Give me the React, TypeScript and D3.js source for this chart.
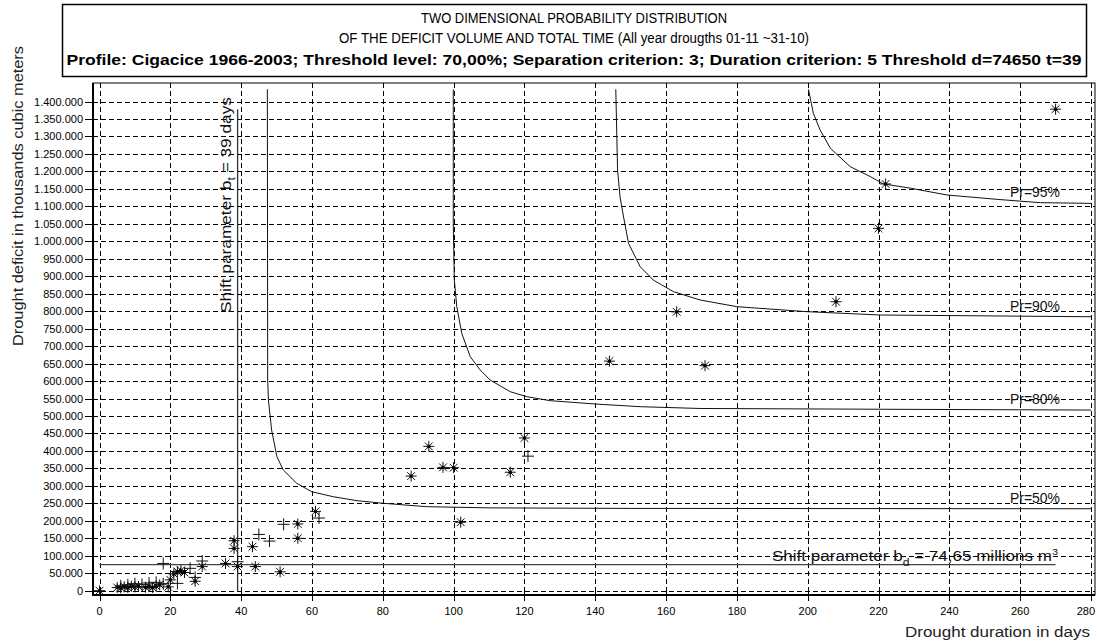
import React from "react";
import * as d3 from "d3";

// ---------- data ----------
const xTickValues = [0, 20, 40, 60, 80, 100, 120, 140, 160, 180, 200, 220, 240, 260, 280];
const yTickValues = [
  0, 50000, 100000, 150000, 200000, 250000, 300000, 350000, 400000, 450000,
  500000, 550000, 600000, 650000, 700000, 750000, 800000, 850000, 900000, 950000,
  1000000, 1050000, 1100000, 1150000, 1200000, 1250000, 1300000, 1350000, 1400000,
];

const titleLines = [
  "TWO DIMENSIONAL PROBABILITY DISTRIBUTION",
  "OF THE DEFICIT VOLUME AND TOTAL TIME (All year drougths 01-11 ~31-10)",
  "Profile: Cigacice 1966-2003; Threshold level: 70,00%; Separation criterion: 3; Duration criterion: 5 Threshold d=74650 t=39",
];
const yAxisTitle = "Drought deficit in thousands cubic meters";
const xAxisTitle = "Drought duration in days";

// drought events (duration days, deficit thousand m3) – asterisk markers
const asteriskPoints: [number, number][] = [
  [0, 0], [5, 9000], [6, 8000], [7, 11000], [8, 9000], [9, 13000], [10, 11000],
  [11, 12000], [13, 10000], [14, 12000], [15, 9000], [16, 13000], [17, 17000],
  [19.4, 11000], [20, 31000], [21, 48000], [22, 55000], [23, 58000], [24, 52000],
  [27, 27000], [29, 69000], [35.6, 78000], [38, 121000], [38, 143000], [39, 69000],
  [43.2, 126000], [44, 69000], [51, 54000], [56, 150000], [56, 191000], [61, 227000],
  [88, 328000], [93, 413000], [97, 353000], [100, 352000], [102, 196000], [116, 339000],
  [120, 437000], [144, 657000], [163, 798000], [171, 644000], [208, 827000],
  [220, 1037000], [222, 1164000], [270, 1378000],
];

// drought events – plus markers
const plusPoints: [number, number][] = [
  [6, 14000], [8, 17000], [10, 20000], [12, 18000], [14, 22000], [16, 24000],
  [18, 20000], [18, 78000], [22, 21000], [25.6, 64000], [27, 38000], [29, 85000],
  [39, 83000], [45, 161000], [48, 142000], [52, 190000], [62, 208000], [121, 385000],
];

// probability isolines
const curve50: [number, number][] = [
  [47.4, 1435000], [47.5, 603000], [47.7, 546000], [48.6, 460000], [50.1, 383500],
  [51.9, 345400], [55.7, 307400], [59.9, 283300], [66.0, 269000], [72.7, 257600],
  [80.2, 250100], [92.4, 240400], [110.3, 237000], [150, 235500], [280, 234500],
];
const curve80: [number, number][] = [
  [99.9, 1435000], [99.9, 1051500], [100.2, 889000], [100.9, 812800], [102.3, 736700],
  [104.7, 669700], [107.5, 631700], [110.3, 603000], [116.0, 569500], [120.7, 555200],
  [127.3, 543800], [140, 534300], [152.7, 526600], [169.6, 521500], [227.5, 519000],
  [280, 517000],
];
const curve90: [number, number][] = [
  [145.8, 1435000], [146.3, 1204000], [147.0, 1127600], [147.9, 1075000], [149.4, 994000],
  [152.7, 927000], [156.4, 889000], [162.1, 855700], [169.6, 832000], [180, 812800],
  [199.8, 798500], [220.5, 789000], [280, 784000],
];
const curve95: [number, number][] = [
  [200.2, 1435000], [201.6, 1366000], [203.5, 1318600], [206.4, 1266000], [212, 1213500],
  [217.7, 1185000], [221.4, 1164000], [229, 1152000], [239.3, 1132500], [253.4, 1120000],
  [265.7, 1110500], [280, 1108500],
];
const curveSeries = [curve50, curve80, curve90, curve95];
const curveLabels = ["Pr=50%", "Pr=80%", "Pr=90%", "Pr=95%"];

const shiftDays = 39;
const shiftDeficit = 74650;
const maxDuration = 270;
const maxDeficit = 1378000;

// ---------- layout ----------
const W = 1097;
const H = 642;
const frame = { left: 93, right: 1095, top: 83, bottom: 595 };
const FONT = "'Liberation Sans', Arial, Helvetica, sans-serif";

const x = d3.scaleLinear().domain([0, 280]).range([99.5, 1091]);
const y = d3.scaleLinear().domain([0, 1400000]).range([590.7, 101.5]);

const locale = d3.formatLocale({ decimal: ",", thousands: ".", grouping: [3], currency: ["", ""] });
const fmt = locale.format(",d");

const line = d3
  .line<[number, number]>()
  .x((d) => x(d[0]))
  .y((d) => y(d[1]))
  .curve(d3.curveLinear);

const snap = (v: number) => Math.round(v) + 0.5;

function Asterisk({ cx, cy }: { cx: number; cy: number }) {
  const r = 5.5;
  const k = r * Math.SQRT1_2;
  return (
    <g stroke="#111" strokeWidth={1}>
      <line x1={cx - r} y1={cy} x2={cx + r} y2={cy} />
      <line x1={cx} y1={cy - r} x2={cx} y2={cy + r} />
      <line x1={cx - k} y1={cy - k} x2={cx + k} y2={cy + k} />
      <line x1={cx - k} y1={cy + k} x2={cx + k} y2={cy - k} />
      <circle cx={cx} cy={cy} r={1.7} fill="#000" stroke="none" />
    </g>
  );
}

function Plus({ cx, cy }: { cx: number; cy: number }) {
  const r = 6;
  return (
    <g stroke="#111" strokeWidth={1}>
      <line x1={cx - r} y1={cy} x2={cx + r} y2={cy} />
      <line x1={cx} y1={cy - r} x2={cx} y2={cy + r} />
    </g>
  );
}

export default function App() {
  const titleWidths = [306, 470, 1015];
  const titleBaselines = [23, 43, 65];
  return (
    <svg
      width={W}
      height={H}
      viewBox={`0 0 ${W} ${H}`}
      style={{ position: "absolute", left: 0, top: 0, background: "#fff" }}
      fontFamily={FONT}
    >
      <rect x={0} y={0} width={W} height={H} fill="#fff" />
      <defs>
        <clipPath id="plotClip">
          <rect x={frame.left} y={frame.top} width={frame.right - frame.left} height={frame.bottom - frame.top} />
        </clipPath>
      </defs>

      {/* title box */}
      <rect x={62.5} y={4.5} width={1024} height={72} fill="#fff" stroke="#000" strokeWidth={1.5} />
      {titleLines.map((t, i) => (
        <text
          key={i}
          x={574}
          y={titleBaselines[i]}
          textAnchor="middle"
          fontSize={14}
          fontWeight={i === 2 ? "bold" : "normal"}
          textLength={titleWidths[i]}
          lengthAdjust="spacingAndGlyphs"
          fill="#000"
        >
          {t}
        </text>
      ))}

      {/* grid */}
      <g stroke="#000" strokeWidth={1} strokeDasharray="5,3">
        {yTickValues.map((v) => (
          <line key={"gy" + v} x1={frame.left} x2={frame.right} y1={snap(y(v))} y2={snap(y(v))} />
        ))}
        {xTickValues.map((v) => (
          <line key={"gx" + v} y1={frame.top} y2={frame.bottom} x1={snap(x(v))} x2={snap(x(v))} />
        ))}
      </g>

      {/* frame */}
      <rect
        x={frame.left}
        y={frame.top}
        width={frame.right - frame.left}
        height={frame.bottom - frame.top}
        fill="none"
        stroke="#000"
        strokeWidth={1}
      />
      <line x1={frame.left} x2={frame.left} y1={frame.top} y2={frame.bottom + 1} stroke="#000" strokeWidth={2} />
      <line x1={frame.left} x2={frame.right} y1={frame.bottom} y2={frame.bottom} stroke="#000" strokeWidth={2} />

      {/* ticks and labels */}
      <g stroke="#000" strokeWidth={1}>
        {yTickValues.map((v) => (
          <line key={"ty" + v} x1={85} x2={98} y1={snap(y(v))} y2={snap(y(v))} />
        ))}
        {xTickValues.map((v) => (
          <line key={"tx" + v} x1={snap(x(v))} x2={snap(x(v))} y1={frame.bottom - 4} y2={frame.bottom + 6} />
        ))}
      </g>
      <g fontSize={11} fill="#000">
        {yTickValues.map((v) => (
          <text key={"ly" + v} x={83} y={y(v) + 4} textAnchor="end">
            {fmt(v)}
          </text>
        ))}
        {xTickValues.map((v, i) => (
          <text
            key={"lx" + v}
            x={i === xTickValues.length - 1 ? 1095 : x(v)}
            y={615}
            textAnchor={i === xTickValues.length - 1 ? "end" : "middle"}
          >
            {v}
          </text>
        ))}
      </g>

      {/* axis titles */}
      <text
        transform={`translate(23,196) rotate(-90)`}
        textAnchor="middle"
        fontSize={14}
        textLength={300}
        lengthAdjust="spacingAndGlyphs"
        fill="#222"
      >
        {yAxisTitle}
      </text>
      <text
        x={905}
        y={637}
        fontSize={14}
        textLength={185}
        lengthAdjust="spacingAndGlyphs"
        fill="#222"
      >
        {xAxisTitle}
      </text>

      <g clipPath="url(#plotClip)">
        {/* shift parameter lines */}
        <line
          x1={x(shiftDays)}
          x2={x(shiftDays)}
          y1={y(0)}
          y2={y(maxDeficit)}
          stroke="#333"
          strokeWidth={1.3}
        />
        <line
          x1={x(0)}
          x2={x(maxDuration)}
          y1={y(shiftDeficit)}
          y2={y(shiftDeficit)}
          stroke="#444"
          strokeWidth={1.3}
        />

        {/* probability curves */}
        {curveSeries.map((c, i) => (
          <path key={"c" + i} d={line(c) || ""} fill="none" stroke="#111" strokeWidth={1} />
        ))}

        {/* points */}
        {asteriskPoints.map((p, i) => (
          <Asterisk key={"a" + i} cx={x(p[0])} cy={y(p[1])} />
        ))}
        {plusPoints.map((p, i) => (
          <Plus key={"p" + i} cx={x(p[0])} cy={y(p[1])} />
        ))}
      </g>

      {/* curve labels */}
      {curveSeries.map((c, i) => (
        <text
          key={"cl" + i}
          x={1010}
          y={y(c[c.length - 1][1]) - 6}
          fontSize={14}
          textLength={50}
          lengthAdjust="spacingAndGlyphs"
          fill="#111"
        >
          {curveLabels[i]}
        </text>
      ))}

      {/* annotations */}
      <text
        transform={`translate(231,313) rotate(-90)`}
        fontSize={14}
        textLength={216}
        lengthAdjust="spacingAndGlyphs"
        fill="#111"
      >
        Shift parameter b
        <tspan fontSize={10} dy={4}>t</tspan>
        <tspan dy={-4}> = 39 days</tspan>
      </text>
      <text
        x={772}
        y={561}
        fontSize={14}
        textLength={286}
        lengthAdjust="spacingAndGlyphs"
        fill="#111"
      >
        Shift parameter b
        <tspan fontSize={10} dy={5}>d</tspan>
        <tspan dy={-5}> = 74,65 millions m</tspan>
        <tspan fontSize={9} dy={-6}>3</tspan>
      </text>
    </svg>
  );
}
